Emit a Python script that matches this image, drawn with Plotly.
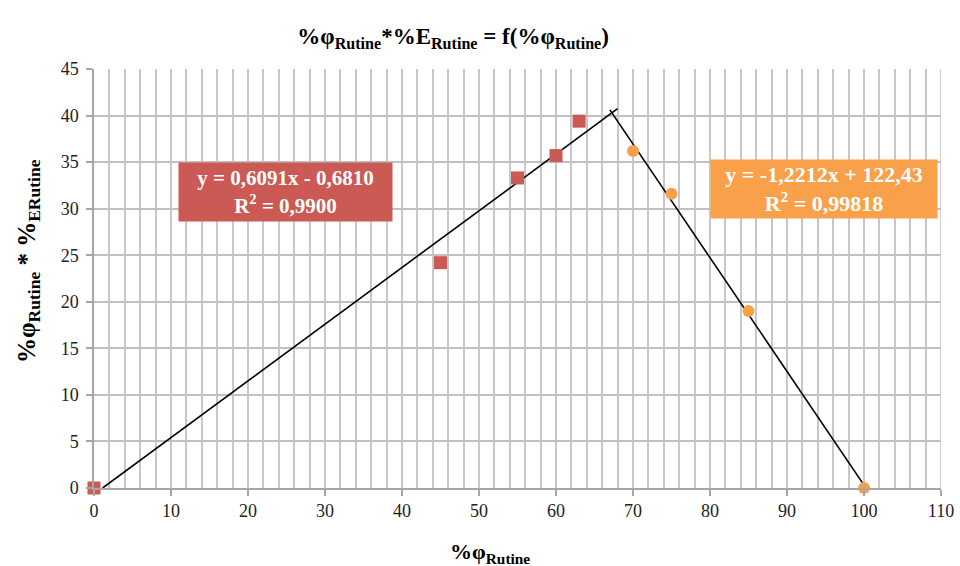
import numpy as np
import plotly.graph_objects as go

# Data
phi_red = [0, 45, 55, 60, 63]
y_red = [0, 24.2, 33.3, 35.7, 39.4]
phi_orange = [70, 75, 85, 100]
y_orange = [36.2, 31.6, 19.0, 0]

# Displayed trend-line coefficients
red_slope, red_icpt = 0.6091, -0.6810
or_slope, or_icpt = -1.2212, 122.43
red_x = [-red_icpt / red_slope, 68]          # clipped at y = 0, forward 5
or_x = [67, 100]                              # backward 3

x_ticks = list(range(0, 111, 10))
y_ticks = list(range(0, 46, 5))

RED = "#CB5A55"
ORANGE = "#F9A04B"
FONT = "Liberation Serif"

fig = go.Figure()
fig.add_trace(go.Scatter(x=red_x, y=[red_slope * v + red_icpt for v in red_x],
                         mode="lines", line=dict(color="black", width=1.6),
                         showlegend=False, hoverinfo="skip"))
fig.add_trace(go.Scatter(x=or_x, y=[or_slope * v + or_icpt for v in or_x],
                         mode="lines", line=dict(color="black", width=1.6),
                         showlegend=False, hoverinfo="skip"))
fig.add_trace(go.Scatter(x=phi_red, y=y_red, mode="markers",
                         marker=dict(symbol="square", size=13, color=RED),
                         showlegend=False, cliponaxis=False))
fig.add_trace(go.Scatter(x=phi_orange, y=y_orange, mode="markers",
                         marker=dict(symbol="circle", size=12, color=ORANGE),
                         showlegend=False, cliponaxis=False))

fig.add_annotation(x=24.9, y=31.8, xref="x", yref="y", showarrow=False,
                   text="y = 0,6091x - 0,6810<br>R<sup>2</sup> = 0,9900",
                   bgcolor=RED, font=dict(family=FONT, size=21, color="white", weight="bold"),
                   width=205, height=50, borderpad=4)
fig.add_annotation(x=94.8, y=32.1, xref="x", yref="y", showarrow=False,
                   text="y = -1,2212x + 122,43<br>R<sup>2</sup> = 0,99818",
                   bgcolor=ORANGE, font=dict(family=FONT, size=22, color="white", weight="bold"),
                   width=218, height=50, borderpad=4)

# y-axis title
fig.add_annotation(x=-66 / 847, y=(488 - 261) / 419, xref="paper", yref="paper",
                   textangle=-90, showarrow=False, xanchor="center", yanchor="middle",
                   text="%φ<sub>Rutine</sub> * %<sub>ERutine</sub>",
                   font=dict(family=FONT, size=25, color="black", weight="bold"))

# x-axis title
fig.add_annotation(x=0.468, y=-65 / 419, xref="paper", yref="paper",
                   showarrow=False, xanchor="center", yanchor="middle",
                   text="%φ<sub>Rutine</sub>",
                   font=dict(family=FONT, size=22, color="black", weight="bold"))

fig.update_layout(
    width=960, height=566,
    margin=dict(l=94, r=19, t=69, b=78),
    paper_bgcolor="white", plot_bgcolor="white",
    title=dict(text="%φ<sub>Rutine</sub>*%E<sub>Rutine</sub> = f(%φ<sub>Rutine</sub>)",
               x=0.472, xanchor="center", y=0.937, yanchor="middle",
               font=dict(family=FONT, size=23, color="black", weight="bold")),
    xaxis=dict(range=[0, 110], tickvals=x_ticks, ticktext=[str(v) for v in x_ticks],
               showgrid=False, zeroline=False, automargin=False,
               showline=True, linecolor="#A6A6A6", linewidth=1.5,
               ticks="outside", ticklen=6, tickcolor="#A6A6A6", tickwidth=1.5,
               minor=dict(dtick=2, tick0=0, showgrid=True, gridcolor="#C8C8C8", gridwidth=1.5),
               tickfont=dict(family=FONT, size=18, color="#222")),
    yaxis=dict(range=[0, 45], tickvals=y_ticks, ticktext=[str(v) for v in y_ticks],
               showgrid=True, gridcolor="#C0C0C0", gridwidth=1.5, zeroline=False,
               automargin=False,
               showline=True, linecolor="#A6A6A6", linewidth=1.5,
               ticks="outside", ticklen=6, tickcolor="#A6A6A6", tickwidth=1.5,
               ticklabelstandoff=4,
               tickfont=dict(family=FONT, size=18, color="#222")),
)
fig.add_shape(type="line", xref="x", yref="paper", x0=110, x1=110, y0=0, y1=1,
              line=dict(color="#C0C0C0", width=1.5), layer="below")

fig.write_html("out.html", config={"displayModeBar": False},
               post_script="document.body.style.margin='0';")
